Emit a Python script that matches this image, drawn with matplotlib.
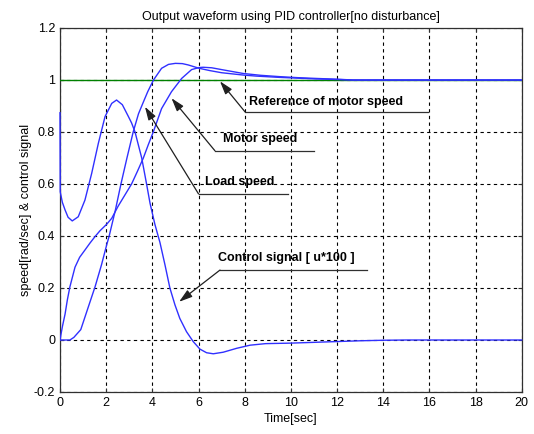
"""
PID controller output waveform (no disturbance).
Motor speed, load speed, reference and scaled control signal.
"""

import matplotlib
matplotlib.use("Agg")
import matplotlib.pyplot as plt

plt.rcParams["font.family"] = ["Liberation Sans", "DejaVu Sans"]

# Reference speed
ref_t = [0, 20]
ref_speed = [1.0, 1.0]

# Motor speed (concave start, slower)
motor_t = [0, 0.1, 0.22, 0.32, 0.43, 0.65, 0.85, 1.08, 1.3, 1.51, 1.73, 2.02, 2.24,
           2.52, 2.8, 3.1, 3.35, 3.61, 3.82, 4.04, 4.4, 4.83, 5.27, 5.7, 6.03, 6.2,
           6.57, 7.0, 7.94, 8.7, 9.5, 10.3, 11.1, 12.0, 12.7, 20]
motor_speed = [0, 0.05, 0.1, 0.155, 0.205, 0.28, 0.318, 0.346, 0.373, 0.397, 0.42,
               0.445, 0.468, 0.515, 0.556, 0.6, 0.648, 0.70, 0.75, 0.8, 0.89, 0.955,
               1.006, 1.04, 1.048, 1.049, 1.047, 1.04, 1.025, 1.018, 1.013, 1.009,
               1.006, 1.003, 1.0, 1.0]

# Load speed (flat start, larger overshoot)
load_t = [0, 0.43, 0.6, 0.9, 1.23, 1.52, 1.8, 2.02, 2.13, 2.4, 2.64, 2.9, 3.17,
          3.4, 3.61, 3.8, 4.05, 4.4, 4.7, 5.0, 5.3, 5.55, 6.03, 6.5, 7.0, 7.94,
          8.5, 9.52, 10.3, 11.1, 12.0, 12.7, 20]
load_speed = [0, 0, 0.01, 0.04, 0.128, 0.205, 0.29, 0.365, 0.40, 0.5, 0.6, 0.7,
              0.8, 0.87, 0.915, 0.955, 1.0, 1.045, 1.06, 1.064, 1.063, 1.058,
              1.045, 1.036, 1.028, 1.019, 1.015, 1.01, 1.007, 1.004, 1.002, 1.0, 1.0]

# Control signal [u*100]
ctrl_t = [0, 0.01, 0.1, 0.22, 0.35, 0.53, 0.79, 1.08, 1.37, 1.66, 1.95, 2.24, 2.45,
          2.7, 2.96, 3.1, 3.25, 3.54, 3.75, 3.9, 4.11, 4.33, 4.55, 4.76, 4.98, 5.19,
          5.48, 5.77, 6.06, 6.35, 6.64, 7.07, 7.65, 8.23, 8.9, 10.0, 11.0, 12.0,
          13.0, 14.0, 15.0, 20]
ctrl = [0.874, 0.57, 0.53, 0.5, 0.472, 0.458, 0.474, 0.538, 0.64, 0.756, 0.859,
        0.91, 0.923, 0.905, 0.86, 0.835, 0.8, 0.70, 0.6, 0.526, 0.445, 0.375,
        0.288, 0.2, 0.135, 0.083, 0.032, -0.006, -0.035, -0.049, -0.053, -0.047,
        -0.032, -0.02, -0.014, -0.012, -0.009, -0.006, -0.003, -0.001, 0, 0]

x_ticks = list(range(0, 21, 2))
y_ticks = [-0.2, 0, 0.2, 0.4, 0.6, 0.8, 1, 1.2]
y_tick_labels = ["-0.2", "0", "0.2", "0.4", "0.6", "0.8", "1", "1.2"]

# label, text anchor (x, y), underline (x0, x1, y), arrow tip (x, y)
notes = [
    ("Reference of motor speed", (8.19, 0.917), (8.01, 15.94, 0.878), (6.93, 0.995)),
    ("Motor speed", (7.07, 0.774), (6.71, 11.01, 0.728), (4.83, 0.93)),
    ("Load speed", (6.28, 0.606), (6.0, 9.88, 0.562), (3.68, 0.897)),
    ("Control signal [ u*100 ]", (6.85, 0.314), (6.93, 13.28, 0.269), (5.16, 0.147)),
]

blue = "#3030ff"

fig = plt.figure(figsize=(5.34, 4.34), dpi=100)
ax = fig.add_axes([60 / 534, 42 / 434, 461.7 / 534, 364 / 434])

ax.plot(ref_t, ref_speed, color="#008000", lw=1.0, zorder=3)
ax.plot(motor_t, motor_speed, color=blue, lw=1.0, zorder=3)
ax.plot(load_t, load_speed, color=blue, lw=1.0, zorder=3)
ax.plot(ctrl_t, ctrl, color=blue, lw=1.0, zorder=3, clip_on=False)

ax.set_xlim(0, 20)
ax.set_ylim(-0.2, 1.2)
ax.set_xticks(x_ticks)
ax.set_yticks(y_ticks)
ax.set_yticklabels(y_tick_labels)
ax.grid(True, color="black", linestyle=(0, (3, 3)), lw=0.8)
ax.tick_params(direction="in", length=3, labelsize=9, top=True, right=True,
               color="#303030")
for sp in ax.spines.values():
    sp.set_color("#303030")
    sp.set_linewidth(0.9)

ax.set_title("Output waveform using PID controller[no disturbance]", fontsize=9, pad=6)
ax.set_xlabel("Time[sec]", fontsize=9, labelpad=3)
ax.set_ylabel("speed[rad/sec] & control signal", fontsize=9, labelpad=1)

for label, (tx, ty), (ux0, ux1, uy), tip in notes:
    ax.text(tx, ty, label, fontsize=9, fontweight="bold", ha="left", va="center")
    ax.plot([ux0, ux1], [uy, uy], color="#303030", lw=0.9)
    ax.annotate("", xy=tip, xytext=(ux0, uy),
                arrowprops=dict(arrowstyle="-|>,head_length=0.8,head_width=0.25",
                                color="#202020", lw=0.9, shrinkA=0, shrinkB=0))

fig.savefig("out.png", dpi=100)
